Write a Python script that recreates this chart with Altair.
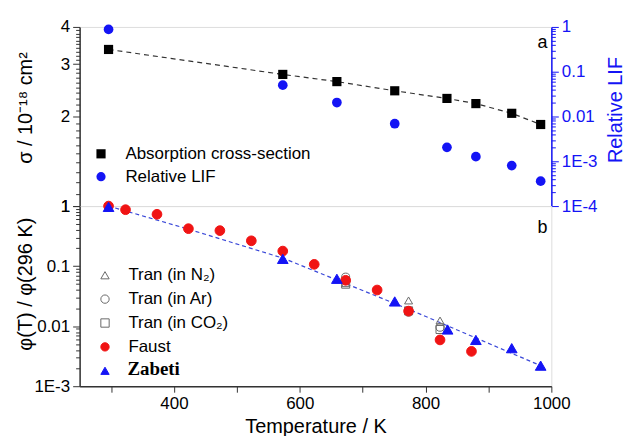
import altair as alt
import pandas as pd

# ---- panel (a): absorption cross-section and relative LIF signal ----
abs_T = [296, 573, 659, 751, 834, 880, 937, 983]
abs_sigma = [3.36, 2.77, 2.62, 2.44, 2.30, 2.21, 2.05, 1.88]
lif_T = [296, 573, 659, 751, 834, 880, 937, 983]
lif_rel = [0.88, 0.050, 0.0205, 0.0069, 0.00205, 0.00127, 0.00080, 0.00036]

# ---- panel (b): normalised fluorescence quantum yield ----
tran_T = [673, 773, 823]
tran_n2 = [0.052, 0.0268, 0.0124]
tran_ar = [0.0656, 0.0171, 0.0096]
tran_co2 = [0.050, 0.018, 0.0088]
faust_T = [296, 323, 373, 423, 473, 523, 573, 623, 673, 723, 773, 823, 873]
faust_phi = [1.0, 0.87, 0.73, 0.42, 0.39, 0.264, 0.178, 0.107, 0.058, 0.040,
             0.0178, 0.0059, 0.0038]
zabeti_T = [296, 573, 659, 751, 835, 880, 937, 983]
zabeti_phi = [0.97, 0.132, 0.0615, 0.0258, 0.0088, 0.0059, 0.0043, 0.0022]
fit_T = [296, 424, 574, 774, 983]
fit_phi = [1.0, 0.41, 0.135, 0.019, 0.0022]

# ---- axis ticks and labels ----
x_ticks = [300, 400, 500, 600, 700, 800, 900, 1000]
sigma_major = [1, 2, 3, 4]
sigma_labels = ["1", "2", "3", "4"]
lif_major = [0.0001, 0.001, 0.01, 0.1, 1]
lif_labels = ["1E-4", "1E-3", "0.01", "0.1", "1"]
phi_major = [0.001, 0.01, 0.1, 1]
phi_labels = ["1E-3", "0.01", "0.1", "1"]

series_a = ["Absorption cross-section", "Relative LIF"]
series_b = ["Tran (in N\u2082)", "Tran (in Ar)", "Tran (in CO\u2082)", "Faust", "Zabeti"]

FONT = "Liberation Sans, Arial, sans-serif"
SERIF = "Liberation Serif, Times New Roman, serif"
BLUE = "#1414f5"
RED = "#f01414"
GRAY = "#6a6a6a"
FRAME = "#333333"


def decade_ticks(majors):
    vals = list(majors)
    for base in majors[:-1]:
        for m in range(2, 10):
            vals.append(round(m * base, 8))
    return sorted(vals)


def label_expr(values, labels):
    expr = "''"
    for v, s in zip(values, labels):
        expr = f"datum.value === {v} ? '{s}' : ({expr})"
    return expr


def major_test(values):
    return "indexof([" + ",".join(str(v) for v in values) + "], datum.value) >= 0"


sigma_ticks = sorted(set([round(1 + 0.1 * i, 2) for i in range(31)]))

df_abs = pd.DataFrame({"T": abs_T, "val": abs_sigma, "series": series_a[0]})
df_lif = pd.DataFrame({"T": lif_T, "val": lif_rel, "series": series_a[1]})

tran_rows = []
for name, vs in [(series_b[0], tran_n2), (series_b[1], tran_ar), (series_b[2], tran_co2)]:
    for t, v in zip(tran_T, vs):
        tran_rows.append({"T": t, "phi": v, "group": name})
df_tran = pd.DataFrame(tran_rows)
df_faust = pd.DataFrame({"T": faust_T, "phi": faust_phi, "group": series_b[3]})
df_zabeti = pd.DataFrame({"T": zabeti_T, "phi": zabeti_phi, "group": series_b[4]})
df_fit = pd.DataFrame({"T": fit_T, "phi": fit_phi})

x_scale = alt.Scale(domain=[250, 1000], nice=False)

common_axis = dict(
    grid=False, labelFont=FONT, labelFontSize=17, titleFont=FONT, titleFontSize=20,
    titleFontWeight="normal", labelFlush=False, labelOverlap=False, labelBound=False,
    tickWidth=1, domainWidth=1.5,
)

axis_sigma = alt.Axis(
    values=sigma_ticks, labelExpr=label_expr(sigma_major, sigma_labels),
    tickSize={"condition": {"test": major_test(sigma_major), "value": 7}, "value": 4},
    title="\u03c3 / 10\u207b\u00b9\u2078 cm\u00b2", titleX=-54, titleY=81,
    titleBaseline="middle", labelPadding=3, domainColor=FRAME, tickColor=FRAME,
    labelColor="black", titleColor="black", **common_axis,
)
axis_lif = alt.Axis(
    orient="right", values=decade_ticks(lif_major), labelExpr=label_expr(lif_major, lif_labels),
    tickSize={"condition": {"test": major_test(lif_major), "value": 7}, "value": 4},
    title="Relative LIF", titleX=64, titleY=83, titleAngle=270, titleBaseline="middle",
    labelPadding=3, domainColor=BLUE, tickColor=BLUE, labelColor=BLUE, titleColor=BLUE,
    **common_axis,
)
axis_phi = alt.Axis(
    values=decade_ticks(phi_major), labelExpr=label_expr(phi_major, phi_labels),
    tickSize={"condition": {"test": major_test(phi_major), "value": 7}, "value": 4},
    title="\u03c6(T) / \u03c6(296 K)", titleX=-54, titleY=78, titleBaseline="middle",
    labelPadding=3, domainColor=FRAME, tickColor=FRAME, labelColor="black",
    titleColor="black", **common_axis,
)
axis_x = alt.Axis(
    values=x_ticks, labelExpr="datum.value % 200 === 0 ? '' + datum.value : ''",
    tickSize=6, labelPadding=3, title="Temperature / K", titleY=47,
    titleBaseline="alphabetic", domainColor=FRAME, tickColor=FRAME, labelColor="black",
    titleColor="black", **common_axis,
)

legend_style = dict(
    orient="none", title=None, padding=0, labelFontSize=17, labelFont=FONT,
    symbolStrokeWidth=1, labelLimit=400,
)

# ---- panel (a) ----
x_a = alt.X("T:Q", scale=x_scale, axis=None)
y_sigma = alt.Y("val:Q", scale=alt.Scale(type="log", domain=[1, 4], nice=False), axis=axis_sigma)
y_lif = alt.Y("val:Q", scale=alt.Scale(type="log", domain=[0.0001, 1], nice=False), axis=axis_lif)

legend_a = alt.Legend(legendX=13, legendY=119, labelOffset=16, symbolSize=85, rowPadding=5,
                      **legend_style)
color_a = alt.Color("series:N", scale=alt.Scale(domain=series_a, range=["black", BLUE]), legend=legend_a)
shape_a = alt.Shape("series:N", scale=alt.Scale(domain=series_a, range=["square", "circle"]), legend=legend_a)

line_a = alt.Chart(df_abs).mark_line(color=FRAME, strokeDash=[5, 4], strokeWidth=1.2).encode(
    x=x_a, y=y_sigma)
pts_abs = alt.Chart(df_abs).mark_point(filled=True, size=85, opacity=1).encode(
    x=x_a, y=y_sigma, color=color_a, shape=shape_a)
tag_a = alt.Chart(pd.DataFrame({"t": ["a"]})).mark_text(
    font=FONT, fontSize=18, align="center", baseline="middle", color="black"
).encode(x=alt.value(465), y=alt.value(16), text="t:N")
pts_lif = alt.Chart(df_lif).mark_point(filled=True, size=95, opacity=1).encode(
    x=x_a, y=y_lif, color=color_a, shape=shape_a)

panel_a = alt.layer(alt.layer(line_a, pts_abs, tag_a), pts_lif).resolve_scale(
    y="independent").properties(width=474, height=180)

# ---- panel (b) ----
x_b = alt.X("T:Q", scale=x_scale, axis=axis_x)
y_phi = alt.Y("phi:Q", scale=alt.Scale(type="log", domain=[0.001, 1], nice=False), axis=axis_phi)

# the Zabeti entry is lettered separately below, in bold serif
legend_b = alt.Legend(
    legendX=17, legendY=61, labelOffset=15, symbolSize=70, rowPadding=6,
    labelExpr="datum.value === 'Zabeti' ? '' : datum.label",
    **legend_style,
)
fill_b = alt.Fill("group:N", scale=alt.Scale(
    domain=series_b, range=["transparent", "transparent", "transparent", RED, BLUE]), legend=legend_b)
stroke_b = alt.Stroke("group:N", scale=alt.Scale(
    domain=series_b, range=[GRAY, GRAY, GRAY, RED, BLUE]), legend=legend_b)
shape_b = alt.Shape("group:N", scale=alt.Scale(
    domain=series_b, range=["triangle-up", "circle", "square", "circle", "triangle-up"]), legend=legend_b)


def series_points(df, size):
    return alt.Chart(df).mark_point(opacity=1, strokeWidth=1, size=size).encode(
        x=x_b, y=y_phi, fill=fill_b, stroke=stroke_b, shape=shape_b)


line_b = alt.Chart(df_fit).mark_line(color="#3a48d8", strokeDash=[4, 3], strokeWidth=1.2).encode(
    x=x_b, y=y_phi)
pts_tran = series_points(df_tran, 65)
pts_faust = series_points(df_faust, 95)
pts_zabeti = series_points(df_zabeti, 115)
tag_b = alt.Chart(pd.DataFrame({"t": ["b"]})).mark_text(
    font=FONT, fontSize=18, align="center", baseline="middle", color="black"
).encode(x=alt.value(465), y=alt.value(22), text="t:N")
zabeti_label = alt.Chart(pd.DataFrame({"t": [series_b[4]]})).mark_text(
    font=SERIF, fontSize=19, fontWeight="bold", align="left", baseline="middle", color="black"
).encode(x=alt.value(48), y=alt.value(164), text="t:N")

panel_b = alt.layer(line_b, pts_tran, pts_faust, pts_zabeti, tag_b, zabeti_label).properties(
    width=474, height=181)

chart = alt.vconcat(
    panel_a, panel_b, spacing=0, bounds="flush",
    padding={"left": 15, "top": 16, "right": 0, "bottom": 2},
).resolve_scale(
    y="independent", color="independent", shape="independent",
    fill="independent", stroke="independent",
).resolve_legend(
    color="independent", shape="independent", fill="independent", stroke="independent",
).configure_view(stroke=FRAME, strokeWidth=1.5).configure(background="white")

chart.save("out.html", embed_options={"renderer": "svg", "actions": False})
